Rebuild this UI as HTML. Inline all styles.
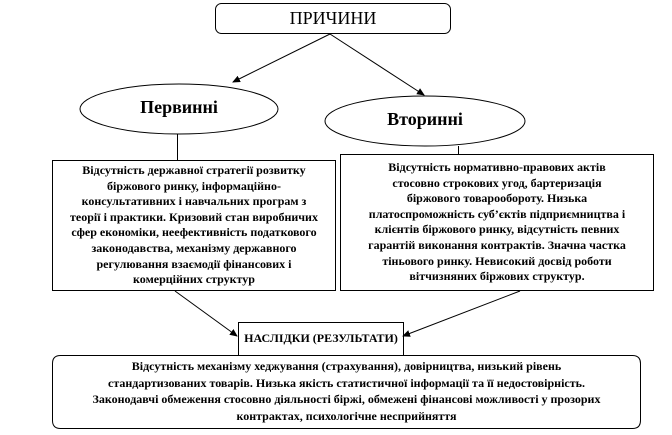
<!DOCTYPE html>
<html><head><meta charset="utf-8"><style>
body{margin:0;width:672px;height:435px;background:#fff;position:relative;overflow:hidden;font-family:"Liberation Serif",serif;}
.t{position:absolute;text-align:center;font-weight:bold;color:#000;white-space:nowrap;}
</style></head><body>
<svg width="672" height="435" style="position:absolute;left:0;top:0" xmlns="http://www.w3.org/2000/svg">
<defs><marker id="a" markerWidth="8" markerHeight="8" refX="7" refY="4" orient="auto" markerUnits="userSpaceOnUse"><path d="M0,0.5 L8,4 L0,7.5z" fill="#000"/></marker></defs>
<g fill="none" stroke="#000" stroke-width="1">
<rect x="215.5" y="3.5" width="235" height="30" rx="6"/>
<line x1="330" y1="34" x2="233" y2="82" marker-end="url(#a)"/>
<line x1="330" y1="34" x2="424" y2="95" marker-end="url(#a)"/>
<ellipse cx="179" cy="109" rx="99" ry="25"/>
<ellipse cx="425" cy="121" rx="100" ry="25"/>
<line x1="177.5" y1="134" x2="177.5" y2="160"/>
<line x1="458.5" y1="146" x2="458.5" y2="155"/>
<rect x="52.5" y="160.5" width="283" height="130"/>
<rect x="340.5" y="154.5" width="313" height="136"/>
<line x1="175" y1="291" x2="237" y2="336" marker-end="url(#a)"/>
<line x1="520" y1="291" x2="403" y2="336" marker-end="url(#a)"/>
<rect x="238.5" y="322.5" width="165" height="33"/>
<path d="M60.5,355.5 H238.5 M403.5,355.5 H632.5 Q640.5,355.5 640.5,363.5 V420.5 Q640.5,428.5 632.5,428.5 H60.5 Q52.5,428.5 52.5,420.5 V363.5 Q52.5,355.5 60.5,355.5"/>
</g>
</svg>
<div class="t" style="left:215px;top:8px;width:236px;font-size:18px;font-weight:normal;">ПРИЧИНИ</div>
<div class="t" style="left:80px;top:97px;width:198px;font-size:18px;">Первинні</div>
<div class="t" style="left:326px;top:109px;width:198px;font-size:18px;">Вторинні</div>
<div class="t" style="left:52px;top:163px;width:284px;font-size:12px;line-height:15.6px;">Відсутність державної стратегії розвитку<br>біржового ринку, інформаційно-<br>консультативних і навчальних програм з<br>теорії і практики. Кризовий стан виробничих<br>сфер економіки, неефективність податкового<br>законодавства, механізму державного<br>регулювання взаємодії фінансових і<br>комерційних структур</div>
<div class="t" style="left:340px;top:160px;width:314px;font-size:12px;line-height:15.6px;">Відсутність нормативно-правових актів<br>стосовно строкових угод, бартеризація<br>біржового товарообороту. Низька<br>платоспроможність суб’єктів підприємництва і<br>клієнтів біржового ринку, відсутність певних<br>гарантій виконання контрактів. Значна частка<br>тіньового ринку. Невисокий досвід роботи<br>вітчизняних біржових структур.</div>
<div class="t" style="left:238px;top:331px;width:166px;font-size:12px;">НАСЛІДКИ (РЕЗУЛЬТАТИ)</div>
<div class="t" style="left:52px;top:358px;width:589px;font-size:12px;line-height:16.5px;">Відсутність механізму хеджування (страхування), довірництва, низький рівень<br>стандартизованих товарів. Низька якість статистичної інформації та її недостовірність.<br>Законодавчі обмеження стосовно діяльності біржі, обмежені фінансові можливості у прозорих<br>контрактах, психологічне несприйняття</div>
</body></html>
